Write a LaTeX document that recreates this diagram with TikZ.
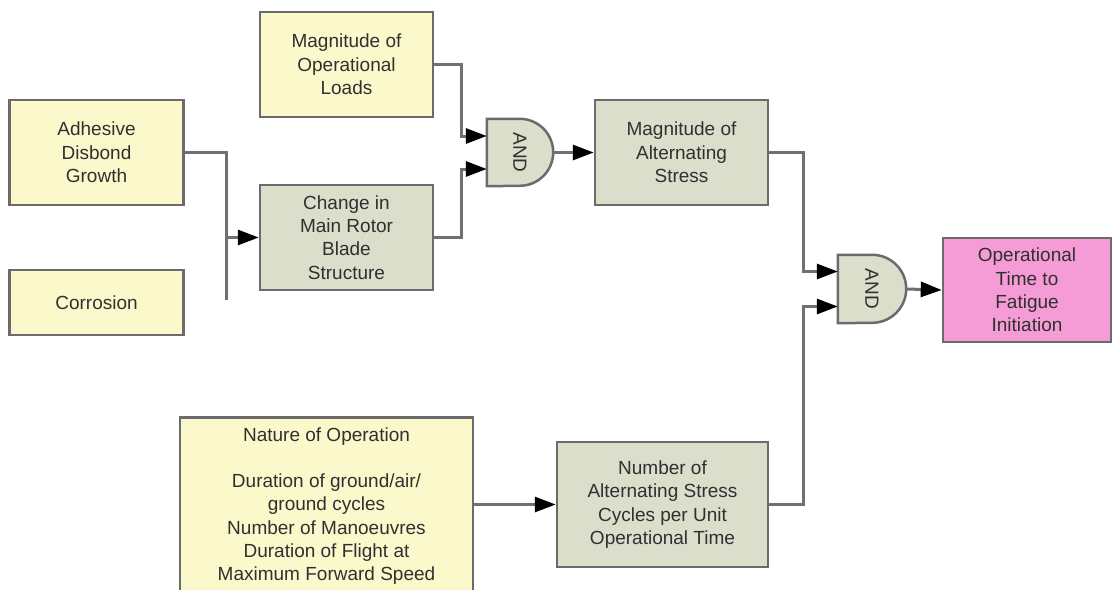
\documentclass[tikz,border=0pt]{standalone}
\usepackage{fontspec}
\setmainfont{Liberation Sans}
\usetikzlibrary{arrows.meta}
\definecolor{yel}{HTML}{FBF8CB}
\definecolor{grn}{HTML}{DADECB}
\definecolor{pnk}{HTML}{F59BD6}
\definecolor{bordercol}{HTML}{6B6B6B}
\definecolor{linecol}{HTML}{707070}
\definecolor{txt}{HTML}{303030}
\tikzset{
  box/.style={draw=bordercol, line width=2.5pt, inner sep=0pt, align=center,
    font=\fontsize{19}{23.3}\selectfont, text=txt},
  ybox/.style={box, fill=yel},
  gbox/.style={box, fill=grn},
  pbox/.style={box, fill=pnk},
  gatebody/.style={draw=bordercol, line width=2.5pt, fill=grn},
  gatelabel/.style={rotate=-90, font=\fontsize{19}{20}\selectfont, text=txt, inner sep=0pt},
  conn/.style={draw=linecol, line width=3pt},
  arr/.style={conn, -{Triangle[length=21pt,width=15pt,color=black]}},
}
\begin{document}
\begin{tikzpicture}[x=1pt,y=-1pt]
\useasboundingbox (0,0) rectangle (1113,589);
\fill[white] (0,0) rectangle (1113,589);
\clip (0,0) rectangle (1113,589);

% boxes
\node[ybox, minimum width=174, minimum height=105] (adh) at (96.5,152.5) {Adhesive\\Disbond\\Growth};
\node[ybox, minimum width=174, minimum height=65] (cor) at (96.5,302.5) {Corrosion};
\node[ybox, minimum width=173, minimum height=105] (mol) at (346.5,64.5) {Magnitude of\\Operational\\Loads};
\node[gbox, minimum width=173, minimum height=105] (chg) at (346.5,237.5) {Change in\\Main Rotor\\Blade\\Structure};
\node[gbox, minimum width=173, minimum height=105] (mas) at (681.5,152.5) {Magnitude of\\Alternating\\Stress};
\node[pbox, minimum width=168, minimum height=104] (out) at (1027,290) {Operational\\Time to\\Fatigue\\Initiation};
\node[gbox, minimum width=211, minimum height=125] (num) at (662.5,504.5) {Number of\\Alternating Stress\\Cycles per Unit\\Operational Time};
\node[ybox, minimum width=293, inner ysep=10pt, anchor=north] (nat) at (326.5,416)
  {Nature of Operation\\[23.3pt]Duration of ground/air/\\ground cycles\\Number of Manoeuvres\\Duration of Flight at\\Maximum Forward Speed};

% gate 1
\node[minimum width=66, minimum height=67, inner sep=0pt] (g1) at (520,152.5) {};
\draw[gatebody] (g1.north west) -- ([xshift=-33.5pt]g1.north east)
  arc[start angle=90, end angle=-90, radius=33.5pt] -- (g1.south west) -- cycle;
\node[gatelabel] (g1l) at (g1) {AND};
\coordinate (g1a) at ([yshift=16.5pt]g1.west);
\coordinate (g1b) at ([yshift=-16.5pt]g1.west);

% gate 2
\node[minimum width=68, minimum height=68, inner sep=0pt] (g2) at (872,289) {};
\draw[gatebody] (g2.north west) -- ([xshift=-34pt]g2.north east)
  arc[start angle=90, end angle=-90, radius=34pt] -- (g2.south west) -- cycle;
\node[gatelabel] (g2l) at (g2) {AND};
\coordinate (g2a) at ([yshift=17.5pt]g2.west);
\coordinate (g2b) at ([yshift=-17.5pt]g2.west);

% connectors
\coordinate (j1) at (226,300);
\draw[conn] (adh.east) -| (j1);
\draw[arr] (chg.west -| j1) -- (chg.west);
\draw[arr] (mol.east) -- ++(27,0) |- (g1a);
\draw[arr] (chg.east) -- ++(27,0) |- (g1b);
\draw[arr] (g1.east) -- (mas.west);
\draw[arr] (mas.east) -- ++(34,0) |- (g2a);
\draw[arr] (num.east) -- ++(34,0) |- (g2b);
\draw[arr] (g2.east) -- (out.west);
\draw[arr] (nat.east |- num.west) -- (num.west);
\end{tikzpicture}
\end{document}
